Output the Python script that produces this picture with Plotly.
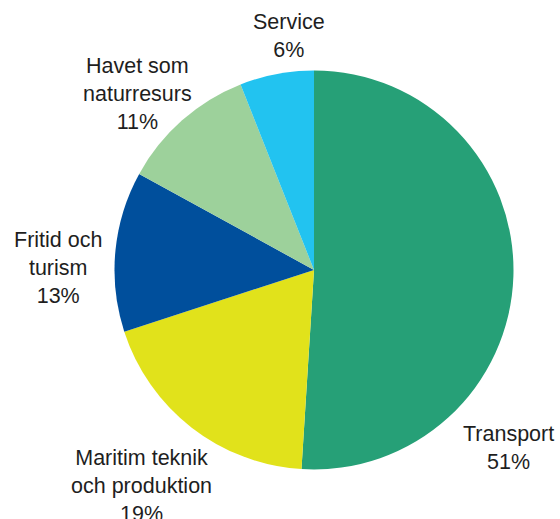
import plotly.graph_objects as go

# Sector shares of the maritime economy (percent)
sectors = ["Transport", "Maritim teknik och produktion", "Fritid och turism",
           "Havet som naturresurs", "Service"]
shares = [51, 19, 13, 11, 6]
# Label text split over lines as printed beside each slice
label_lines = [["Transport"], ["Maritim teknik", "och produktion"], ["Fritid och", "turism"],
               ["Havet som", "naturresurs"], ["Service"]]
colors = ["#26a077", "#e1e21b", "#004f9c", "#9dd19b", "#22c3f0"]

W, H = 560, 519
# label anchor points in pixels (centre of each text block)
label_pos = [(508, 448), (141, 486), (58, 268), (137, 94), (289, 36)]

fig = go.Figure(go.Pie(
    labels=sectors,
    values=shares,
    sort=False,
    direction="clockwise",
    rotation=0,
    marker=dict(colors=colors, line=dict(width=0)),
    textinfo="none",
    hoverinfo="label+percent",
    showlegend=False,
    domain=dict(x=[114.5 / W, 513.5 / W], y=[(H - 469.5) / H, (H - 70.5) / H]),
))

for lines, val, (px, py) in zip(label_lines, shares, label_pos):
    fig.add_annotation(
        x=px / W, y=1 - py / H, xref="paper", yref="paper",
        text="<br>".join(lines + [f"{val}%"]),
        showarrow=False, xanchor="center", yanchor="middle", align="center",
        font=dict(family="Liberation Sans, Arial, sans-serif", size=21.5, color="#1e1e1e"),
    )

fig.update_layout(
    width=W, height=H,
    margin=dict(l=0, r=0, t=0, b=0),
    paper_bgcolor="white", plot_bgcolor="white",
)

fig.write_html("out.html")
